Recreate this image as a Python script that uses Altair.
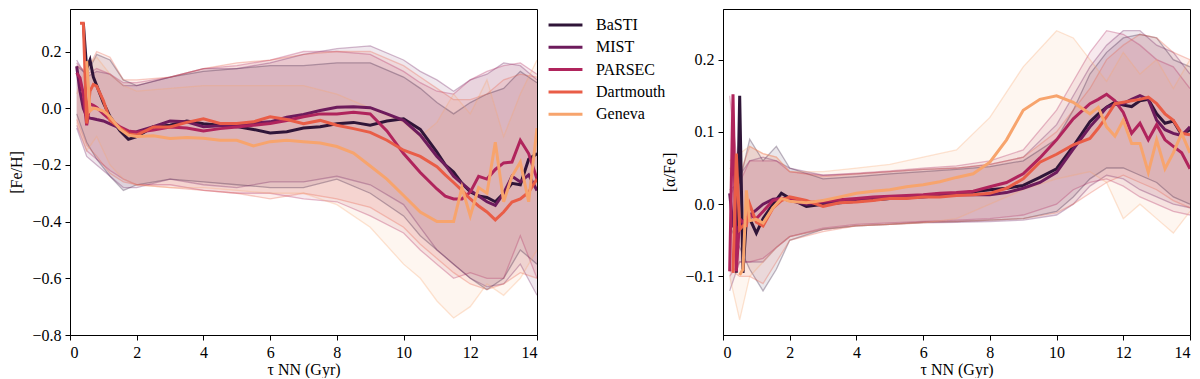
import altair as alt
import pandas as pd

MODELS = ["BaSTI", "MIST", "PARSEC", "Dartmouth", "Geneva"]
COLORS = ["#2f1538", "#6d1b5c", "#b0245c", "#e95d47", "#f7a46d"]

# x grid of the mean curves (Gyr)
XM = [0.2, 0.3, 0.4, 0.5, 0.6, 0.7, 0.8,
      1.0, 1.2, 1.5, 1.75, 2.0,
      2.5, 3.0, 3.5, 4.0, 4.5, 5.0, 5.5, 6.0, 6.5, 7.0, 7.5, 8.0, 8.5, 9.0, 9.5, 10.0, 10.5, 11.0,
      11.25, 11.5, 11.75, 12.0, 12.25, 12.5, 12.75, 13.0, 13.25, 13.5, 13.75, 14.0]

# ---- [Fe/H] mean curves ----
FEH_BASTI = [None, None, 0.30, 0.14, 0.17, 0.11, 0.08,
             0.02, -0.03, -0.08, -0.11, -0.10,
             -0.065, -0.06, -0.045, -0.055, -0.06, -0.065, -0.075, -0.087, -0.083, -0.07, -0.065, -0.055, -0.05, -0.06, -0.045, -0.037, -0.075, -0.155,
             -0.2, -0.225, -0.265, -0.295, -0.31, -0.315, -0.33, -0.3, -0.265, -0.27, -0.18, -0.16]
FEH_MIST = [0.148, 0.06, 0.0, -0.03, -0.035, -0.037, -0.04,
            -0.045, -0.055, -0.07, -0.085, -0.083,
            -0.065, -0.045, -0.048, -0.065, -0.062, -0.06, -0.052, -0.048, -0.032, -0.022, -0.008, 0.003, 0.005, 0.002, -0.02, -0.043, -0.095, -0.17,
            -0.2, -0.24, -0.265, -0.29, -0.31, -0.33, -0.343, -0.3, -0.24, -0.26, -0.235, -0.29]
FEH_PARSEC = [0.125, 0.107, 0.05, -0.06, 0.015, 0.01, 0.003,
              -0.02, -0.04, -0.066, -0.08, -0.085,
              -0.077, -0.066, -0.07, -0.08, -0.072, -0.066, -0.06, -0.054, -0.043, -0.03, -0.02, -0.02, -0.014, -0.02, -0.08, -0.16, -0.227, -0.285,
              -0.31, -0.32, -0.32, -0.296, -0.24, -0.25, -0.216, -0.193, -0.19, -0.113, -0.16, -0.25]
FEH_DART = [None, 0.3, 0.3, -0.054, 0.06, 0.084, 0.078,
            0.027, -0.043, -0.07, -0.09, -0.095,
            -0.066, -0.066, -0.05, -0.037, -0.054, -0.054, -0.048, -0.03, -0.04, -0.055, -0.043, -0.06, -0.072, -0.085, -0.113, -0.148, -0.17, -0.206,
            -0.235, -0.262, -0.29, -0.32, -0.345, -0.366, -0.394, -0.366, -0.331, -0.32, -0.296, -0.25]
FEH_GENEVA = [None, None, None, 0.166, -0.01, 0.0, -0.002,
              -0.01, -0.03, -0.074, -0.095, -0.1,
              -0.097, -0.107, -0.103, -0.106, -0.113, -0.113, -0.133, -0.118, -0.113, -0.118, -0.123, -0.135, -0.158, -0.204, -0.25, -0.308, -0.366, -0.4,
              -0.4, -0.4, -0.28, -0.38, -0.28, -0.3, -0.12, -0.33, -0.24, -0.19, -0.33, -0.07]

# ---- [alpha/Fe] mean curves ----
AFE_BASTI = [None, None, -0.095, 0.15, -0.095, -0.02, -0.02,
             -0.04, -0.02, 0.0, 0.015, 0.008,
             -0.003, 0.0, 0.002, 0.004, 0.006, 0.008, 0.01, 0.012, 0.014, 0.015, 0.017, 0.02, 0.022, 0.026, 0.037, 0.049, 0.08, 0.114,
             0.125, 0.134, 0.141, 0.137, 0.135, 0.143, 0.145, 0.125, 0.112, 0.115, 0.096, 0.103]
AFE_MIST = [0.015, -0.03, -0.035, -0.03, -0.025, -0.02, -0.015,
            -0.008, 0.0, 0.007, 0.008, 0.005,
            0.0, 0.002, 0.003, 0.005, 0.007, 0.008, 0.009, 0.01, 0.012, 0.013, 0.013, 0.013, 0.016, 0.022, 0.03, 0.044, 0.076, 0.107,
            0.12, 0.134, 0.138, 0.139, 0.145, 0.15, 0.145, 0.116, 0.103, 0.098, 0.095, 0.107]
AFE_PARSEC = [-0.093, 0.152, -0.093, -0.02, -0.025, -0.02, -0.015,
              -0.02, -0.01, 0.005, 0.008, 0.008,
              0.002, 0.004, 0.006, 0.008, 0.01, 0.011, 0.012, 0.013, 0.015, 0.016, 0.018, 0.024, 0.03, 0.042, 0.064, 0.089, 0.118, 0.139,
              0.145, 0.152, 0.143, 0.127, 0.098, 0.112, 0.089, 0.11, 0.089, 0.08, 0.071, 0.049]
AFE_DART = [None, -0.095, 0.07, -0.035, -0.03, -0.03, 0.0,
            -0.025, -0.03, -0.005, 0.005, 0.01,
            0.005, -0.003, 0.002, 0.003, 0.005, 0.008, 0.008, 0.01, 0.01, 0.012, 0.013, 0.015, 0.022, 0.035, 0.058, 0.069, 0.082, 0.091,
            0.105, 0.121, 0.139, 0.141, 0.143, 0.145, 0.148, 0.139, 0.125, 0.116, 0.098, 0.096]
AFE_GENEVA = [None, None, None, -0.098, -0.09, 0.019, -0.023,
              -0.021, -0.026, -0.005, 0.008, 0.004,
              0.002, 0.005, 0.01, 0.015, 0.018, 0.02, 0.024, 0.027, 0.031, 0.037, 0.042, 0.058, 0.089, 0.13, 0.145, 0.15, 0.141, 0.125,
              0.134, 0.107, 0.094, 0.116, 0.084, 0.084, 0.044, 0.089, 0.049, 0.071, 0.098, 0.071]

# x grid of the scatter bands (Gyr)
XB = [0.2, 0.5, 0.8, 1.2, 1.6, 2, 3, 4, 5, 6, 7, 8, 9, 10, 10.5, 11, 11.5, 12, 12.5, 13, 13.5, 14]

# ---- [Fe/H] bands ----
FEH_BASTI_HI = [0.15, 0.12, 0.19, 0.17, 0.10, 0.08, 0.11, 0.13, 0.14, 0.15, 0.15, 0.16, 0.16, 0.11, 0.07, 0.02, -0.02, 0.02, 0.05, 0.07, 0.13, 0.09]
FEH_BASTI_LO = [-0.02, -0.12, -0.18, -0.24, -0.29, -0.27, -0.25, -0.26, -0.27, -0.28, -0.28, -0.25, -0.3, -0.38, -0.45, -0.5, -0.55, -0.6, -0.64, -0.6, -0.5, -0.55]
FEH_MIST_HI = [0.17, 0.11, 0.13, 0.12, 0.08, 0.08, 0.11, 0.14, 0.14, 0.16, 0.19, 0.21, 0.22, 0.17, 0.13, 0.1, 0.06, 0.1, 0.12, 0.16, 0.15, 0.1]
FEH_MIST_LO = [-0.07, -0.17, -0.2, -0.24, -0.28, -0.28, -0.25, -0.27, -0.28, -0.26, -0.26, -0.24, -0.27, -0.34, -0.42, -0.5, -0.55, -0.6, -0.63, -0.62, -0.55, -0.66]
FEH_PARSEC_HI = [0.16, 0.12, 0.14, 0.12, 0.09, 0.09, 0.11, 0.14, 0.15, 0.17, 0.2, 0.2, 0.19, 0.13, 0.09, 0.06, 0.05, 0.1, 0.13, 0.15, 0.16, 0.12]
FEH_PARSEC_LO = [-0.06, -0.15, -0.18, -0.22, -0.25, -0.27, -0.27, -0.29, -0.3, -0.3, -0.32, -0.33, -0.38, -0.44, -0.5, -0.55, -0.6, -0.58, -0.6, -0.6, -0.45, -0.6]
FEH_DART_HI = [0.15, 0.13, 0.2, 0.18, 0.1, 0.1, 0.11, 0.14, 0.16, 0.17, 0.19, 0.2, 0.2, 0.15, 0.11, 0.07, 0.03, 0.03, 0.05, 0.1, 0.12, 0.11]
FEH_DART_LO = [-0.04, -0.13, -0.17, -0.23, -0.26, -0.27, -0.28, -0.29, -0.3, -0.32, -0.3, -0.32, -0.35, -0.42, -0.48, -0.53, -0.58, -0.62, -0.64, -0.62, -0.58, -0.6]
FEH_GENEVA_HI = [0.05, 0.15, 0.18, 0.12, 0.08, 0.06, 0.07, 0.08, 0.08, 0.08, 0.08, 0.05, 0.0, -0.05, -0.1, -0.05, 0.05, -0.02, 0.1, -0.1, 0.05, 0.17]
FEH_GENEVA_LO = [-0.05, -0.15, -0.1, -0.2, -0.25, -0.27, -0.28, -0.28, -0.29, -0.3, -0.3, -0.34, -0.42, -0.55, -0.6, -0.68, -0.74, -0.7, -0.62, -0.66, -0.6, -0.5]

# ---- [alpha/Fe] bands ----
AFE_BASTI_HI = [0.02, 0.03, 0.09, 0.06, 0.08, 0.05, 0.035, 0.038, 0.042, 0.045, 0.048, 0.052, 0.06, 0.09, 0.13, 0.18, 0.21, 0.23, 0.235, 0.23, 0.2, 0.19]
AFE_BASTI_LO = [-0.03, -0.06, -0.09, -0.12, -0.09, -0.05, -0.035, -0.03, -0.028, -0.025, -0.024, -0.022, -0.02, -0.01, 0.01, 0.035, 0.05, 0.05, 0.04, 0.03, 0.01, 0.0]
AFE_MIST_HI = [0.01, 0.04, 0.06, 0.065, 0.06, 0.05, 0.04, 0.042, 0.045, 0.048, 0.05, 0.055, 0.065, 0.11, 0.15, 0.19, 0.22, 0.24, 0.24, 0.22, 0.21, 0.18]
AFE_MIST_LO = [-0.12, -0.08, -0.08, -0.08, -0.06, -0.045, -0.035, -0.03, -0.028, -0.026, -0.025, -0.024, -0.022, -0.015, 0.0, 0.025, 0.04, 0.035, 0.02, 0.01, 0.0, -0.005]
AFE_PARSEC_HI = [0.15, 0.03, 0.06, 0.06, 0.06, 0.045, 0.04, 0.043, 0.046, 0.05, 0.053, 0.06, 0.075, 0.13, 0.17, 0.21, 0.24, 0.235, 0.22, 0.2, 0.19, 0.16]
AFE_PARSEC_LO = [-0.1, -0.08, -0.08, -0.075, -0.06, -0.045, -0.033, -0.028, -0.026, -0.024, -0.022, -0.02, -0.015, 0.0, 0.02, 0.03, 0.035, 0.025, 0.01, 0.0, -0.01, -0.015]
AFE_DART_HI = [0.05, 0.04, 0.08, 0.07, 0.065, 0.045, 0.038, 0.042, 0.045, 0.048, 0.05, 0.055, 0.065, 0.1, 0.13, 0.16, 0.2, 0.22, 0.235, 0.23, 0.21, 0.2]
AFE_DART_LO = [-0.09, -0.1, -0.1, -0.11, -0.08, -0.05, -0.038, -0.03, -0.028, -0.025, -0.024, -0.022, -0.02, -0.012, 0.0, 0.015, 0.03, 0.04, 0.03, 0.02, 0.005, -0.005]
AFE_GENEVA_HI = [0.06, 0.07, 0.08, 0.07, 0.065, 0.045, 0.045, 0.05, 0.055, 0.065, 0.075, 0.12, 0.19, 0.24, 0.23, 0.2, 0.17, 0.21, 0.18, 0.2, 0.16, 0.2]
AFE_GENEVA_LO = [-0.1, -0.16, -0.1, -0.08, -0.06, -0.045, -0.035, -0.03, -0.028, -0.026, -0.02, 0.0, 0.02, 0.035, 0.04, 0.045, 0.03, -0.02, 0.0, -0.02, -0.04, -0.01]

FEH_MEANS = [FEH_BASTI, FEH_MIST, FEH_PARSEC, FEH_DART, FEH_GENEVA]
AFE_MEANS = [AFE_BASTI, AFE_MIST, AFE_PARSEC, AFE_DART, AFE_GENEVA]
FEH_HI = [FEH_BASTI_HI, FEH_MIST_HI, FEH_PARSEC_HI, FEH_DART_HI, FEH_GENEVA_HI]
FEH_LO = [FEH_BASTI_LO, FEH_MIST_LO, FEH_PARSEC_LO, FEH_DART_LO, FEH_GENEVA_LO]
AFE_HI = [AFE_BASTI_HI, AFE_MIST_HI, AFE_PARSEC_HI, AFE_DART_HI, AFE_GENEVA_HI]
AFE_LO = [AFE_BASTI_LO, AFE_MIST_LO, AFE_PARSEC_LO, AFE_DART_LO, AFE_GENEVA_LO]

FONT = "Liberation Serif, DejaVu Serif, serif"


def mean_frame(means):
    rows = []
    for k, (m, ys) in enumerate(zip(MODELS, means)):
        assert len(ys) == len(XM), (m, len(ys))
        for x, y in zip(XM, ys):
            if y is not None:
                rows.append({"model": m, "k": k, "x": x, "y": y})
    return pd.DataFrame(rows)


def band_frame(los, his):
    rows = []
    for k, (m, lo, hi) in enumerate(zip(MODELS, los, his)):
        assert len(lo) == len(XB) and len(hi) == len(XB), m
        for x, a, b in zip(XB, lo, hi):
            rows.append({"model": m, "k": k, "x": x, "lo": a, "hi": b})
    return pd.DataFrame(rows)


cscale = alt.Scale(domain=MODELS, range=COLORS)
LABEL_EXPR = "replace(format(datum.value, '.1f'), '-', '\u2212')"


def panel(means, los, his, ydom, yticks, ytitle, show_legend):
    mdf = mean_frame(means)
    bdf = band_frame(los, his)
    xenc = alt.X("x:Q", scale=alt.Scale(domain=[0, 14], nice=False),
                 axis=alt.Axis(values=list(range(0, 15, 2)), format="d", title="\u03c4 NN (Gyr)"))
    yscale = alt.Scale(domain=ydom, nice=False, zero=False)
    yaxis = alt.Axis(values=yticks, labelExpr=LABEL_EXPR, title=ytitle, titlePadding=7)
    if show_legend:
        legend = alt.Legend(title=None, orient="right", symbolType="stroke", symbolStrokeWidth=3,
                            symbolSize=1150, symbolOpacity=1, labelFont=FONT, labelFontSize=16,
                            labelColor="black", clipHeight=16, rowPadding=6.3, offset=2, padding=8,
                            labelOffset=12)
    else:
        legend = None
    color = alt.Color("model:N", scale=cscale, legend=legend, sort=MODELS)
    area = alt.Chart(bdf).mark_area(opacity=0.1, clip=True).encode(
        x=xenc,
        y=alt.Y("lo:Q", scale=yscale, axis=yaxis),
        y2="hi:Q",
        color=color,
        order="k:Q",
    )
    edge_lo = alt.Chart(bdf).mark_line(opacity=0.3, strokeWidth=1.3, clip=True).encode(
        x=xenc, y=alt.Y("lo:Q", scale=yscale, axis=yaxis), color=color,
    )
    edge_hi = alt.Chart(bdf).mark_line(opacity=0.3, strokeWidth=1.3, clip=True).encode(
        x=xenc, y=alt.Y("hi:Q", scale=yscale, axis=yaxis), color=color,
    )
    lines = alt.Chart(mdf).mark_line(strokeWidth=3, clip=True).encode(
        x=xenc, y=alt.Y("y:Q", scale=yscale, axis=yaxis), color=color,
    )
    return alt.layer(area, edge_lo, edge_hi, lines).properties(width=467, height=326)


left = panel(FEH_MEANS, FEH_LO, FEH_HI, [-0.8, 0.35], [-0.8, -0.6, -0.4, -0.2, 0.0, 0.2], "[Fe/H]", True)
right = panel(AFE_MEANS, AFE_LO, AFE_HI, [-0.181, 0.27], [-0.1, 0.0, 0.1, 0.2], "[\u03b1/Fe]", False)

chart = alt.hconcat(left, right, spacing=186, bounds="flush").resolve_legend(color="independent").properties(
    background="white", padding={"left": 0, "top": 0, "right": 0, "bottom": 0}
).configure_view(
    stroke="black", strokeWidth=1
).configure_axis(
    grid=False, domainColor="black", tickColor="black", tickSize=5, labelFont=FONT, titleFont=FONT,
    labelFontSize=16, titleFontSize=16, labelColor="black", titleColor="black", titleFontWeight="normal",
    labelPadding=4
).configure_axisX(
    labelPadding=4, titlePadding=1
)

chart.save("out.html", embed_options={"renderer": "svg", "actions": False})
